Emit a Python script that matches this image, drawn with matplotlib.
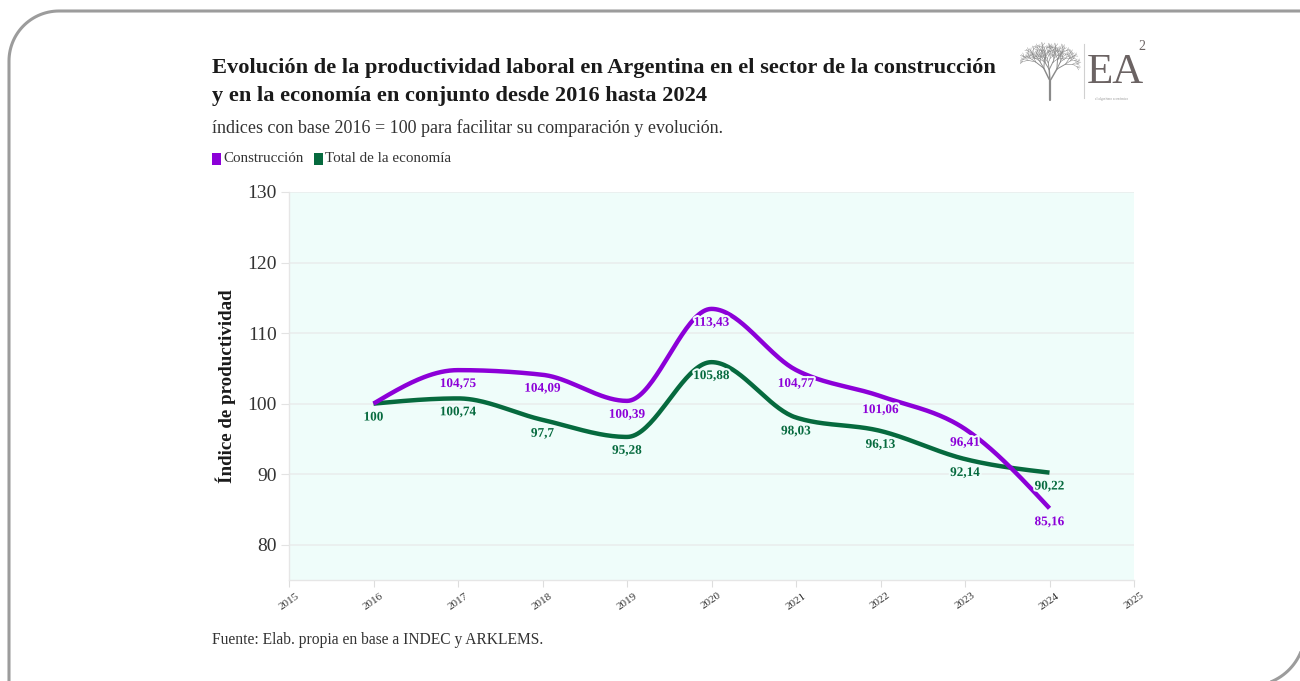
import numpy as np
import matplotlib
matplotlib.use("Agg")
import matplotlib.pyplot as plt
from matplotlib.path import Path
from matplotlib.patches import PathPatch
from matplotlib.transforms import Affine2D
import matplotlib.patheffects as pe

# --- data -------------------------------------------------------------
years = [2016, 2017, 2018, 2019, 2020, 2021, 2022, 2023, 2024]
construccion = [100, 104.75, 104.09, 100.39, 113.43, 104.77, 101.06, 96.41, 85.16]
total_economia = [100, 100.74, 97.7, 95.28, 105.88, 98.03, 96.13, 92.14, 90.22]
x_ticks = list(range(2015, 2026))
y_ticks = [80, 90, 100, 110, 120, 130]

PURPLE = "#8c00d8"
GREEN = "#066a3e"
BG = "#effdfa"
SERIF = "Liberation Serif"
W, H = 1300, 681


def monotone_x(xs, ys, n=40):
    """Monotone cubic interpolation (same slope rule as d3.curveMonotoneX)."""
    xs = np.asarray(xs, float)
    ys = np.asarray(ys, float)
    m = len(xs)
    h = np.diff(xs)
    s = np.diff(ys) / h
    t = np.zeros(m)
    for i in range(1, m - 1):
        p = (s[i - 1] * h[i] + s[i] * h[i - 1]) / (h[i - 1] + h[i])
        t[i] = (np.sign(s[i - 1]) + np.sign(s[i])) * min(abs(s[i - 1]), abs(s[i]), 0.5 * abs(p))
    t[0] = (3 * s[0] - t[1]) / 2
    t[-1] = (3 * s[-1] - t[-2]) / 2
    out_x, out_y = [], []
    for i in range(m - 1):
        u = np.linspace(0, 1, n, endpoint=(i == m - 2))
        x0, x1, y0, y1, dx = xs[i], xs[i + 1], ys[i], ys[i + 1], h[i]
        h00 = 2 * u**3 - 3 * u**2 + 1
        h10 = u**3 - 2 * u**2 + u
        h01 = -2 * u**3 + 3 * u**2
        h11 = u**3 - u**2
        out_x.append(x0 + u * dx)
        out_y.append(h00 * y0 + h10 * dx * t[i] + h01 * y1 + h11 * dx * t[i + 1])
    return np.concatenate(out_x), np.concatenate(out_y)


def arc(cx, cy, r, a0, a1, n=30):
    a = np.radians(np.linspace(a0, a1, n))
    return np.column_stack([cx + r * np.cos(a), cy + r * np.sin(a)])


fig = plt.figure(figsize=(13, 6.81), dpi=100)
fig.patch.set_facecolor("white")

# card frame: rounded top-left and bottom-right corners (pixel coords, y down)
r1, r2 = 50, 55
pts = np.vstack([
    [[9, 700]],
    arc(9 + r1, 11 + r1, r1, 180, 270),
    [[1320, 11]],
    [[1305, 11]],
    arc(1305 - r2, 686 - r2, r2, 0, 90),
    [[1200, 686]],
])
to_fig = Affine2D().scale(1 / W, -1 / H).translate(0, 1) + fig.transFigure
frame = PathPatch(Path(pts), transform=to_fig, facecolor="none",
                  edgecolor="#9c9c9c", linewidth=2.2)
fig.patches.append(frame)

ax = fig.add_axes([289 / W, 1 - 580 / H, (1134 - 289) / W, (580 - 192) / H])
ax.set_facecolor(BG)
ax.set_xlim(2015, 2025)
ax.set_ylim(75, 130)

for y in y_ticks:
    ax.axhline(y, color="#e9eeed", lw=1.2, zorder=1)

halo = [pe.withStroke(linewidth=3, foreground=BG)]
for vals, col in ((total_economia, GREEN), (construccion, PURPLE)):
    sx, sy = monotone_x(years, vals)
    ax.plot(sx, sy, color=col, lw=3.2, solid_capstyle="butt", zorder=3)

for vals, col in ((construccion, PURPLE), (total_economia, GREEN)):
    for x, v in zip(years, vals):
        txt = f"{v:g}".replace(".", ",")
        ax.annotate(txt, (x, v), xytext=(0, -10), textcoords="offset points",
                    ha="center", va="center", color=col, fontsize=9.5,
                    fontweight="bold", family=SERIF, zorder=4, path_effects=halo)

ax.set_xticks(x_ticks)
ax.set_xticklabels([str(x) for x in x_ticks], rotation=35, ha="center",
                   fontsize=8, family=SERIF, color="#333333")
ax.set_yticks(y_ticks)
ax.set_yticklabels([str(y) for y in y_ticks], fontsize=14, family=SERIF, color="#333333")
ax.tick_params(axis="x", length=5, color="#dddddd", pad=3)
ax.tick_params(axis="y", length=6, color="#e3e3e3", pad=3)
for side in ("top", "right"):
    ax.spines[side].set_visible(False)
for side in ("left", "bottom"):
    ax.spines[side].set_color("#e6e6e6")
    ax.spines[side].set_linewidth(1)

ax.set_ylabel("Índice de productividad", family=SERIF, fontweight="bold",
              fontsize=13.7, color="#1a1a1a", labelpad=8)

# titles
fig.text(212 / W, 1 - 68 / H, "Evolución de la productividad laboral en Argentina en el sector de la construcción",
         family=SERIF, fontweight="bold", fontsize=16.1, color="#1a1a1a", va="center")
fig.text(212 / W, 1 - 96 / H, "y en la economía en conjunto desde 2016 hasta 2024",
         family=SERIF, fontweight="bold", fontsize=16.1, color="#1a1a1a", va="center")
fig.text(212 / W, 1 - 128 / H, "índices con base 2016 = 100 para facilitar su comparación y evolución.",
         family=SERIF, fontsize=13, color="#333333", va="center")

# legend
for lx, label, col in ((212, "Construcción", PURPLE), (314, "Total de la economía", GREEN)):
    fig.patches.append(plt.Rectangle((lx / W, 1 - 165 / H), 9 / W, 12 / H,
                                     transform=fig.transFigure, facecolor=col, edgecolor="none"))
    fig.text((lx + 11) / W, 1 - 159 / H, label, family=SERIF, fontsize=10.8,
             color="#333333", va="center")

fig.text(212 / W, 1 - 640 / H, "Fuente: Elab. propia en base a INDEC y ARKLEMS.",
         family=SERIF, fontsize=11.2, color="#333333", va="center")

# logo: tree, divider and initials
lg = fig.add_axes([1020 / W, 1 - 104 / H, 130 / W, 64 / H])
lg.set_xlim(0, 130)
lg.set_ylim(0, 64)
lg.axis("off")


def branch(x, y, ang, length, depth, width):
    if depth == 0 or length < 2:
        return
    x2 = x + length * np.cos(np.radians(ang))
    y2 = y + length * np.sin(np.radians(ang))
    lg.plot([x, x2], [y, y2], color="#8a8a8a", lw=width, solid_capstyle="round")
    for d_ang, f in ((-30, 0.72), (26, 0.74), (4, 0.6)):
        branch(x2, y2, ang + d_ang, length * f, depth - 1, max(width * 0.65, 0.3))


branch(30, 4, 90, 19, 6, 1.6)
lg.plot([64, 64], [6, 60], color="#d0d0d0", lw=0.8)
lg.text(67, 31, "EA", family=SERIF, fontsize=31, color="#6b6363", va="center", ha="left")
lg.text(122, 58, "2", family=SERIF, fontsize=10, color="#6b6363", va="center", ha="center")
lg.text(92, 5, "el algoritmo económico", family=SERIF, fontsize=2.5, color="#9a9a9a",
        va="center", ha="center")

fig.savefig("out.png", dpi=100, facecolor="white")
